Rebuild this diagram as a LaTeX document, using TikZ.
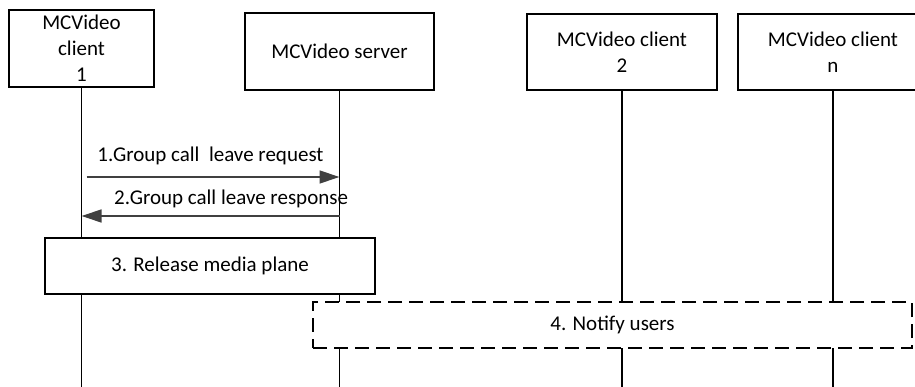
\documentclass[tikz,border=0pt]{standalone}
\usepackage{fontspec}
\setmainfont{Carlito}
\usetikzlibrary{positioning}
\usetikzlibrary{calc}
\usetikzlibrary{arrows.meta}

\begin{document}
\begin{tikzpicture}[x=1pt, y=-1pt, font=\fontsize{21}{26}\selectfont,
        box/.style={draw, line width=1.5pt, fill=white, align=center, inner sep=0pt},
        life/.style={line width=1.5pt},
        msg/.style={draw=black!75, line width=1.3pt, -{Triangle[length=20pt, width=13pt]}}]
            \useasboundingbox (0,0) rectangle (915,387);
            \coordinate (bottom) at (0,390);
            \coordinate (m1) at (0,177);
            \coordinate (m2) at (0,216);

            \node[box, minimum width=145pt, minimum height=77pt] (C1) at (81.5,48.5) {MCVideo\\client\\1};
            \node[box, minimum width=189pt, minimum height=77pt] (S) at (339.5,51.5) {MCVideo server};
            \node[box, minimum width=190pt, minimum height=76pt] (C2) at (622,52) {MCVideo client\\2};
            \node[box, minimum width=190pt, minimum height=76pt, right = 19.5pt of C2] (Cn) {MCVideo client\\n};

            \foreach \n in {C1,S,C2,Cn}
                \draw[life] (\n.south) -- (\n.south |- bottom);

            \draw[msg, shorten <=5pt] (C1.south |- m1) -- (S.south |- m1)
                node[midway, anchor=base, yshift=15pt, text=black] {1.Group call~~leave request};
            \draw[msg] (S.south |- m2) -- (C1.south |- m2)
                node[pos=.42, anchor=base, yshift=11pt, text=black] {2.Group call leave response};

            \node[box, minimum width=330pt, minimum height=56pt] (R) at (210,266) {3. Release media plane};
            \node[box, dash pattern=on 14pt off 7pt, minimum width=599pt, minimum height=46pt] (N) at (612.5,325) {4. Notify users};
        \end{tikzpicture}
\end{document}
